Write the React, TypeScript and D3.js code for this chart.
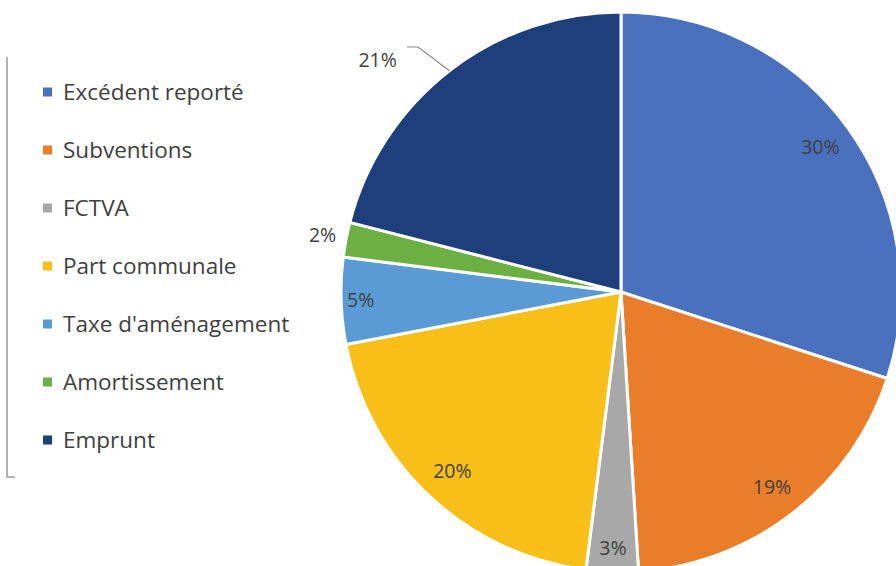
import React from "react";
import * as d3 from "d3";

const categories = ["Excédent reporté", "Subventions", "FCTVA", "Part communale", "Taxe d'aménagement", "Amortissement", "Emprunt"];
const values = [30, 19, 3, 20, 5, 2, 21];
const colors = ["#4A71BD", "#EA7D2A", "#A8A8A8", "#F7BF17", "#5B9BD5", "#6CB043", "#1E3F7C"];
// label distance from centre as a fraction of the radius (Excel "best fit")
const labelRadiusFactor = [0.88, 0.88, 0.915, 0.88, 0.93, 1.085, 1.2];

const W = 896;
const H = 566;

export default function App() {
  const cx = 621;
  const cy = 292;
  const R = 280;
  const pie = d3.pie<number>().sort(null).value((d) => d);
  const arcs = pie(values);
  const arcGen = d3.arc<d3.PieArcDatum<number>>().innerRadius(0).outerRadius(R);
  const total = d3.sum(values);
  const fmt = (v: number) => `${Math.round((v / total) * 100)}%`;

  const legendX = 43;
  const legendY0 = 92;
  const legendStep = 58;

  return (
    <svg width={W} height={H} style={{ position: "absolute", left: 0, top: 0, background: "#fff" }}
      fontFamily="'Open Sans', Lato, sans-serif">
      <rect width={W} height={H} fill="#fff" />
      {/* legend bracket */}
      <path d={`M7,57 V477 H15`} fill="none" stroke="#9a9a9a" strokeWidth={1.5} />
      {categories.map((c, i) => (
        <g key={c} transform={`translate(${legendX},${legendY0 + i * legendStep})`}>
          <rect x={0} y={-4.5} width={9} height={9} fill={colors[i]} />
          <text x={20} y={0} dy="0.35em" fontSize={22.5} fill="#404040">{c}</text>
        </g>
      ))}
      <g transform={`translate(${cx},${cy})`}>
        {arcs.map((a, i) => (
          <path key={i} d={arcGen(a) || ""} fill={colors[i]} stroke="#fff" strokeWidth={3} strokeLinejoin="round" />
        ))}
        {arcs.map((a, i) => {
          const mid = (a.startAngle + a.endAngle) / 2;
          let ang = mid;
          if (i === 6) ang = (313.6 * Math.PI) / 180;
          const r = R * labelRadiusFactor[i];
          const x = Math.sin(ang) * r;
          const y = -Math.cos(ang) * r;
          return (
            <text key={"l" + i} x={x} y={y} dy="0.35em" textAnchor="middle" fontSize={19.5} fill="#404040">
              {fmt(values[i])}
            </text>
          );
        })}
        {(() => {
          const a = arcs[6];
          const mid = (a.startAngle + a.endAngle) / 2;
          const px = Math.sin(mid) * R;
          const py = -Math.cos(mid) * R;
          return (
            <path d={`M${407 - cx},${47 - cy} H${418 - cx} L${px},${py}`} fill="none" stroke="#8c8c8c" strokeWidth={1.2} />
          );
        })()}
      </g>
    </svg>
  );
}
